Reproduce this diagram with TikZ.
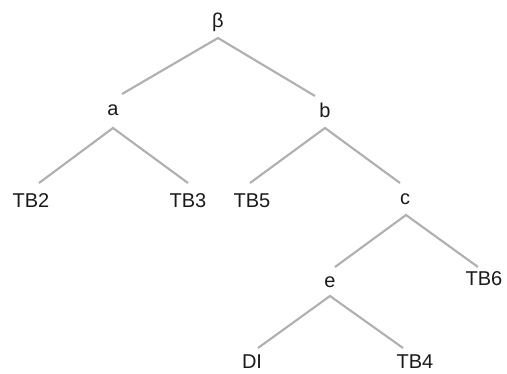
\documentclass[tikz,border=0pt]{standalone}
\usepackage{fontspec}
\setmainfont{Liberation Sans}
\definecolor{edgegray}{HTML}{B0B0B0}
\definecolor{txt}{HTML}{1A1A1A}
\begin{document}
\begin{tikzpicture}[x=0.75pt,y=-0.75pt,
  lbl/.style={inner sep=0pt,text=txt,font=\fontsize{15}{17}\selectfont},
  edge/.style={draw=edgegray,line width=1.6pt}]
\useasboundingbox (0,0) rectangle (507,374);
\node[lbl] (beta) at (218,22) {β};
\node[lbl] (a) at (113,110) {a};
\node[lbl] (b) at (325,110) {b};
\node[lbl] (tb2) at (31,201) {TB2};
\node[lbl] (tb3) at (188,201) {TB3};
\node[lbl] (tb5) at (252,201) {TB5};
\node[lbl] (c) at (405,199) {c};
\node[lbl] (e) at (330,282) {e};
\node[lbl] (tb6) at (484,279) {TB6};
\node[lbl] (di) at (252,362) {DI};
\node[lbl] (tb4) at (415,362) {TB4};
\draw[edge] ([shift={(9,-16)}]a.center) -- ([shift={(0,16)}]beta.center) -- ([shift={(-10,-14)}]b.center);
\draw[edge] ([shift={(8,-18)}]tb2.center) -- ([shift={(0,18)}]a.center) -- ([shift={(0,-18)}]tb3.center);
\draw[edge] ([shift={(-2,-18)}]tb5.center) -- ([shift={(0,18)}]b.center) -- ([shift={(-5,-16)}]c.center);
\draw[edge] ([shift={(5,-15)}]e.center) -- ([shift={(1,16)}]c.center) -- ([shift={(-6,-12)}]tb6.center);
\draw[edge] ([shift={(6,-14)}]di.center) -- ([shift={(0,14)}]e.center) -- ([shift={(-12,-14)}]tb4.center);
\end{tikzpicture}
\end{document}
